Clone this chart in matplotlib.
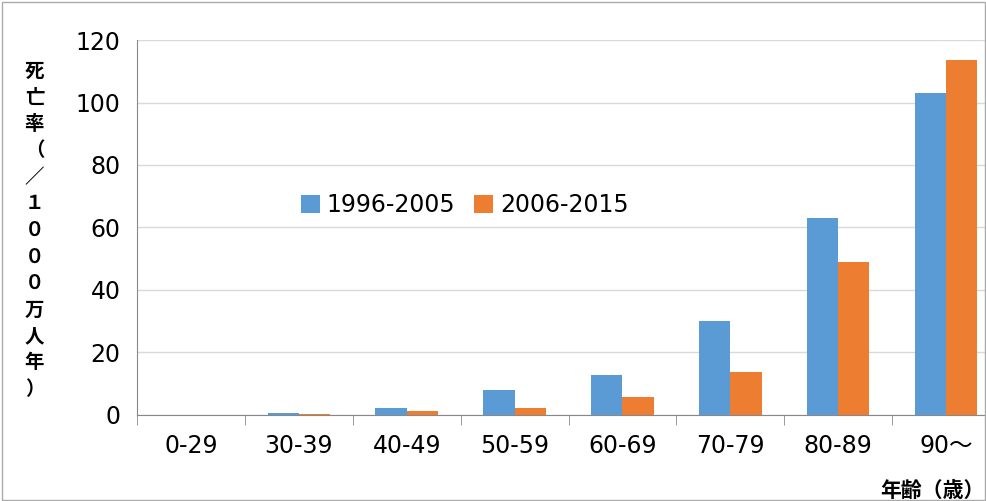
import numpy as np
import matplotlib.pyplot as plt

plt.rcParams['font.family'] = ['DejaVu Sans', 'Noto Sans CJK JP']

ages = ['0-29', '30-39', '40-49', '50-59', '60-69', '70-79', '80-89', '90～']
rate_1996 = [0, 0.5, 2.2, 8.1, 12.8, 30, 63, 103]
rate_2006 = [0, 0.2, 1.2, 2.3, 5.6, 13.8, 49, 113.5]

fig = plt.figure(figsize=(9.87, 5.01), dpi=100)
ax = fig.add_axes([0.139, 0.172, 0.874, 0.748])
x = np.arange(len(ages))
w = 0.29
ax.bar(x - w / 2, rate_1996, w, color='#5b9bd5', label='1996-2005', zorder=3)
ax.bar(x + w / 2, rate_2006, w, color='#ed7d31', label='2006-2015', zorder=3)

ax.set_xlim(-0.5, 7.5)
ax.set_ylim(0, 120)
ax.set_yticks(range(0, 121, 20))
ax.grid(axis='y', color='#d9d9d9', lw=1, zorder=0)
ax.set_xticks(x)
ax.set_xticklabels(ages, fontsize=17)
ax.set_xticks(np.arange(-0.5, 7.5, 1), minor=True)
ax.tick_params(axis='x', which='major', length=0, pad=14)
ax.tick_params(axis='x', which='minor', length=7, color='#888888')
ax.tick_params(axis='y', length=0, labelsize=17, pad=12)
for s in ['top', 'right']:
    ax.spines[s].set_visible(False)
ax.spines['left'].set_color('#888888')
ax.spines['bottom'].set_color('#888888')

ax.legend(loc='center left', bbox_to_anchor=(0.165, 0.56), ncol=2, frameon=False,
          fontsize=17, handlelength=0.8, handleheight=0.8, columnspacing=0.8,
          handletextpad=0.3)

ylabel = '死亡率（／１０００万人年）'
fig.text(0.035, 0.54, '\n'.join(ylabel), ha='center', va='center',
         family=['Noto Sans CJK JP'], fontsize=14, fontweight='bold', linespacing=1.5)
fig.text(0.945, 0.0, '年齢（歳）', ha='center', va='bottom', family=['Noto Sans CJK JP'],
         fontsize=15, fontweight='bold')

fig.patches.append(plt.Rectangle((0.002, 0.002), 0.996, 0.994, transform=fig.transFigure,
                                 fill=False, edgecolor='#aaaaaa', lw=1))
fig.savefig('out.png')
